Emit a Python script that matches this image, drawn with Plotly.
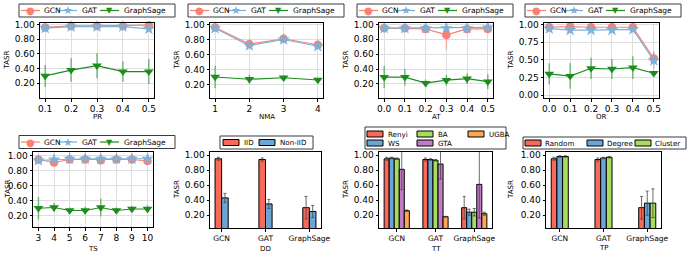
import plotly.graph_objects as go

FONT = "DejaVu Sans"
W, H = 692, 258
MODELS = ["GCN", "GAT", "GraphSage"]

# ---------------- data ----------------
# Panel 1: PR
pr_x = [0.1, 0.2, 0.3, 0.4, 0.5]
pr_gcn = [0.96, 0.98, 0.98, 0.98, 0.99]
pr_gcn_err = [0.01, 0.01, 0.01, 0.01, 0.01]
pr_gat = [0.95, 0.97, 0.97, 0.97, 0.94]
pr_gat_err = [0.01, 0.01, 0.01, 0.01, 0.03]
pr_gs = [0.30, 0.38, 0.44, 0.36, 0.36]
pr_gs_err = [0.15, 0.16, 0.17, 0.14, 0.17]

# Panel 2: NMA
nma_x = [1, 2, 3, 4]
nma_gcn = [0.96, 0.74, 0.81, 0.73]
nma_gcn_err = [0.01, 0.02, 0.01, 0.02]
nma_gat = [0.95, 0.72, 0.80, 0.71]
nma_gat_err = [0.01, 0.02, 0.02, 0.02]
nma_gs = [0.30, 0.27, 0.29, 0.26]
nma_gs_err = [0.15, 0.06, 0.03, 0.03]

# Panel 3: AT
at_x = [0.0, 0.1, 0.2, 0.3, 0.4, 0.5]
at_gcn = [0.95, 0.95, 0.94, 0.86, 0.94, 0.94]
at_gcn_err = [0.01, 0.01, 0.02, 0.20, 0.01, 0.01]
at_gat = [0.95, 0.95, 0.95, 0.95, 0.95, 0.96]
at_gat_err = [0.01, 0.01, 0.01, 0.01, 0.01, 0.01]
at_gs = [0.29, 0.29, 0.21, 0.25, 0.27, 0.23]
at_gs_err = [0.15, 0.11, 0.05, 0.07, 0.07, 0.10]

# Panel 4: OR
or_x = [0.0, 0.1, 0.2, 0.3, 0.4, 0.5]
or_gcn = [0.96, 0.97, 0.96, 0.96, 0.96, 0.52]
or_gcn_err = [0.01, 0.01, 0.01, 0.01, 0.01, 0.10]
or_gat = [0.94, 0.92, 0.92, 0.92, 0.93, 0.49]
or_gat_err = [0.01, 0.02, 0.02, 0.02, 0.02, 0.12]
or_gs = [0.30, 0.27, 0.38, 0.37, 0.39, 0.31]
or_gs_err = [0.15, 0.18, 0.15, 0.14, 0.16, 0.04]

# Panel 5: TS
ts_x = [3, 4, 5, 6, 7, 8, 9, 10]
ts_gcn = [0.95, 0.91, 0.95, 0.95, 0.94, 0.95, 0.95, 0.93]
ts_gcn_err = [0.01, 0.06, 0.01, 0.01, 0.02, 0.01, 0.01, 0.02]
ts_gat = [0.94, 0.95, 0.96, 0.96, 0.96, 0.96, 0.96, 0.96]
ts_gat_err = [0.01, 0.01, 0.01, 0.01, 0.01, 0.01, 0.01, 0.01]
ts_gs = [0.30, 0.31, 0.27, 0.27, 0.31, 0.27, 0.29, 0.29]
ts_gs_err = [0.15, 0.06, 0.04, 0.05, 0.12, 0.04, 0.04, 0.05]

# Panel 6: DD
dd_names = ["IID", "Non-IID"]
dd_iid = [0.95, 0.94, 0.30]
dd_iid_err = [0.02, 0.02, 0.15]
dd_noniid = [0.43, 0.35, 0.25]
dd_noniid_err = [0.06, 0.06, 0.08]

# Panel 7: TT
tt_names = ["Renyi", "WS", "BA", "GTA", "UGBA"]
tt_renyi = [0.95, 0.94, 0.30]
tt_renyi_err = [0.02, 0.02, 0.15]
tt_ws = [0.96, 0.94, 0.24]
tt_ws_err = [0.01, 0.01, 0.04]
tt_ba = [0.95, 0.93, 0.24]
tt_ba_err = [0.01, 0.01, 0.05]
tt_gta = [0.81, 0.88, 0.61]
tt_gta_err = [0.27, 0.20, 0.45]
tt_ugba = [0.26, 0.18, 0.22]
tt_ugba_err = [0.01, 0.005, 0.02]

# Panel 8: TP
tp_names = ["Random", "Degree", "Cluster"]
tp_random = [0.95, 0.94, 0.30]
tp_random_err = [0.02, 0.02, 0.15]
tp_degree = [0.98, 0.96, 0.36]
tp_degree_err = [0.01, 0.01, 0.16]
tp_cluster = [0.98, 0.97, 0.36]
tp_cluster_err = [0.01, 0.01, 0.19]

# ---------------- styles ----------------
LINE_COLORS = {"GCN": "#fa8072", "GAT": "#7eb0d8", "GraphSage": "#1c8c1c"}
ERR_COLORS = {"GCN": "rgba(250,128,114,0.55)", "GAT": "rgba(126,176,216,0.55)",
              "GraphSage": "rgba(28,140,28,0.55)"}
SYMBOLS = {"GCN": "circle", "GAT": "star", "GraphSage": "triangle-down"}
GLYPHS = {"GCN": ("\u25CF", 10), "GAT": ("\u2605", 11), "GraphSage": ("\u25BC", 8)}
MSIZE = {"GCN": 8.5, "GAT": 9.5, "GraphSage": 8.5}
BAR_COLORS = ["#f9695a", "#6ba5d5", "#a8dc5c", "#c27bc6", "#fda84f"]
TICK = 9
AXT = 7
LEGF = 7.5
BLEGF = 7.1

# panel geometry in pixels: (left, right, top, bottom)
PANELS = [
    (40, 154, 23, 98), (210, 323, 23, 98), (379, 493, 23, 98), (544, 659, 23, 98),
    (33, 153, 152, 227), (210, 321, 152, 228), (379, 492, 152, 228), (546, 661, 152, 228),
]
XTITLE_Y = [117, 117, 117, 117, 249, 249, 249, 248]
YTITLE_X = [7, 177, 346, 511, 7, 177, 346, 511]

fig = go.Figure()
annotations = []
shapes = []


def px(x):
    return x / W


def py(y):
    return 1 - y / H


def text_ann(x, y, text, size, xanchor="center", color="black", angle=0):
    annotations.append(dict(x=px(x), y=py(y), xref="paper", yref="paper", text=text,
                            showarrow=False, xanchor=xanchor, yanchor="middle",
                            textangle=angle, borderpad=0,
                            font=dict(size=size, family=FONT, color=color)))


def ax_names(k):
    s = "" if k == 1 else str(k)
    return "x" + s, "y" + s, "xaxis" + s, "yaxis" + s


def axis_titles(k, title):
    L, R, T, B = PANELS[k - 1]
    text_ann((L + R) / 2, XTITLE_Y[k - 1], title, AXT)
    text_ann(YTITLE_X[k - 1], (T + B) / 2, "TASR", AXT, angle=-90)


def common_axis(**kw):
    d = dict(showline=True, linecolor="black", linewidth=1, mirror=True, automargin=False,
             ticks="outside", ticklen=2.5, tickcolor="black", zeroline=False)
    d.update(kw)
    return d


def add_line_panel(k, xs, series, title, xrange, yrange, ytickvals, xtickfmt):
    xr, yr, xa, ya = ax_names(k)
    for name, (vals, errs) in zip(MODELS, series):
        fig.add_trace(go.Scatter(
            x=xs, y=vals, mode="lines+markers", name=name,
            xaxis=xr, yaxis=yr, showlegend=False,
            line=dict(color=LINE_COLORS[name], width=1.2),
            marker=dict(symbol=SYMBOLS[name], size=MSIZE[name], color=LINE_COLORS[name]),
            error_y=dict(type="data", array=errs, color=ERR_COLORS[name], thickness=1.5, width=0),
            cliponaxis=False,
        ))
    L, R, T, B = PANELS[k - 1]
    fig.update_layout(**{
        xa: common_axis(domain=[px(L), px(R)], anchor=yr, range=xrange, tickvals=xs,
                        tickformat=xtickfmt, showgrid=True, gridcolor="#dedede", gridwidth=1,
                        tickfont=dict(size=TICK, family=FONT, color="black")),
        ya: common_axis(domain=[py(B), py(T)], anchor=xr, range=yrange, tickvals=ytickvals,
                        tickformat=".2f", showgrid=True, gridcolor="#dedede", gridwidth=1,
                        tickfont=dict(size=TICK, family=FONT, color="black")),
    })
    axis_titles(k, title)


def add_bar_panel(k, names, series, title, width, yrange):
    xr, yr, xa, ya = ax_names(k)
    n = len(names)
    for i, (name, (vals, errs)) in enumerate(zip(names, series)):
        fig.add_trace(go.Bar(
            x=MODELS, y=vals, name=name, xaxis=xr, yaxis=yr, showlegend=False,
            width=width, offset=(i - n / 2) * width,
            marker=dict(color=BAR_COLORS[i], line=dict(color="black", width=1)),
            error_y=dict(type="data", array=errs, color="rgba(70,70,70,0.8)", thickness=1, width=1.5),
        ))
    L, R, T, B = PANELS[k - 1]
    half = n / 2 * width
    pad = (2 + 2 * half) * 0.05
    fig.update_layout(**{
        xa: common_axis(domain=[px(L), px(R)], anchor=yr, range=[-half - pad, 2 + half + pad],
                        showgrid=False, tickfont=dict(size=7.5, family=FONT, color="black")),
        ya: common_axis(domain=[py(B), py(T)], anchor=xr, range=yrange,
                        tickvals=[0.2, 0.4, 0.6, 0.8, 1.0], tickformat=".2f", showgrid=False,
                        tickfont=dict(size=TICK, family=FONT, color="black")),
    })
    axis_titles(k, title)


Y02 = [0.2, 0.4, 0.6, 0.8, 1.0]
add_line_panel(1, pr_x, [(pr_gcn, pr_gcn_err), (pr_gat, pr_gat_err), (pr_gs, pr_gs_err)],
               "PR", [0.08, 0.52], [0.0, 1.02], Y02, ".1f")
add_line_panel(2, nma_x, [(nma_gcn, nma_gcn_err), (nma_gat, nma_gat_err), (nma_gs, nma_gs_err)],
               "NMA", [0.85, 4.15], [0.02, 1.02], Y02, "d")
add_line_panel(3, at_x, [(at_gcn, at_gcn_err), (at_gat, at_gat_err), (at_gs, at_gs_err)],
               "AT", [-0.025, 0.525], [0.01, 1.02], Y02, ".1f")
add_line_panel(4, or_x, [(or_gcn, or_gcn_err), (or_gat, or_gat_err), (or_gs, or_gs_err)],
               "OR", [-0.025, 0.525], [-0.04, 1.02], [0.0, 0.25, 0.5, 0.75, 1.0], ".1f")
add_line_panel(5, ts_x, [(ts_gcn, ts_gcn_err), (ts_gat, ts_gat_err), (ts_gs, ts_gs_err)],
               "TS", [2.65, 10.35], [0.05, 1.05], Y02, "d")
add_bar_panel(6, dd_names, [(dd_iid, dd_iid_err), (dd_noniid, dd_noniid_err)],
              "DD", 0.15, [0.03, 1.04])
add_bar_panel(7, tt_names, [(tt_renyi, tt_renyi_err), (tt_ws, tt_ws_err), (tt_ba, tt_ba_err),
                            (tt_gta, tt_gta_err), (tt_ugba, tt_ugba_err)],
              "TT", 0.13, [0.03, 1.04])
add_bar_panel(8, tp_names, [(tp_random, tp_random_err), (tp_degree, tp_degree_err),
                            (tp_cluster, tp_cluster_err)],
              "TP", 0.13, [0.03, 1.04])


# ---------------- legends (drawn as boxes, keys and text) ----------------
def legend_box(x0, x1, y0, y1):
    shapes.append(dict(type="rect", xref="paper", yref="paper", x0=px(x0), x1=px(x1),
                       y0=py(y1), y1=py(y0), line=dict(color="#3a3a3a", width=1),
                       fillcolor="white", layer="above"))


def line_legend(left, yc):
    legend_box(left, left + 156, yc - 6.5, yc + 6.5)
    offs = [(2, 21, 24), (39, 58, 62), (81, 100, 104)]
    for name, (a, b, t) in zip(MODELS, offs):
        shapes.append(dict(type="line", xref="paper", yref="paper",
                           x0=px(left + a), x1=px(left + b), y0=py(yc), y1=py(yc),
                           line=dict(color=LINE_COLORS[name], width=1.2), layer="above"))
        g, s = GLYPHS[name]
        text_ann(left + (a + b) / 2, yc + 0.5, g, s, color=LINE_COLORS[name])
        text_ann(left + t, yc, name, LEGF, xanchor="left")


def bar_key(x0, yc, color, label, tx):
    shapes.append(dict(type="rect", xref="paper", yref="paper", x0=px(x0), x1=px(x0 + 16),
                       y0=py(yc + 3), y1=py(yc - 3), fillcolor=color,
                       line=dict(color="black", width=1), layer="above"))
    text_ann(tx, yc, label, BLEGF, xanchor="left")


for k, left in zip([1, 2, 3, 4], [19, 188, 357, 525]):
    line_legend(left, 10.5)
line_legend(19, 142)

# DD legend
legend_box(220, 313, 136, 149)
bar_key(223, 142.5, BAR_COLORS[0], dd_names[0], 243)
bar_key(259, 142.5, BAR_COLORS[1], dd_names[1], 279)

# TT legend (3 columns, filled column-wise)
legend_box(365, 506, 127, 149)
tt_pos = [(367, 134), (367, 143), (417, 134), (417, 143), (468, 134)]
for i, (name, (x0, yc)) in enumerate(zip(tt_names, tt_pos)):
    bar_key(x0, yc, BAR_COLORS[i], name, x0 + 20)

# TP legend
legend_box(523, 686, 137, 149)
for i, (name, x0) in enumerate(zip(tp_names, [525, 587, 635])):
    bar_key(x0, 143, BAR_COLORS[i], name, x0 + 19)

fig.update_layout(
    width=W, height=H, margin=dict(l=0, r=0, t=0, b=0, autoexpand=False),
    plot_bgcolor="white", paper_bgcolor="white",
    font=dict(family=FONT, color="black"),
    barmode="overlay", showlegend=False,
    annotations=annotations, shapes=shapes,
)

fig.write_html("out.html", config={"displayModeBar": False},
               post_script="document.body.style.margin='0';")
